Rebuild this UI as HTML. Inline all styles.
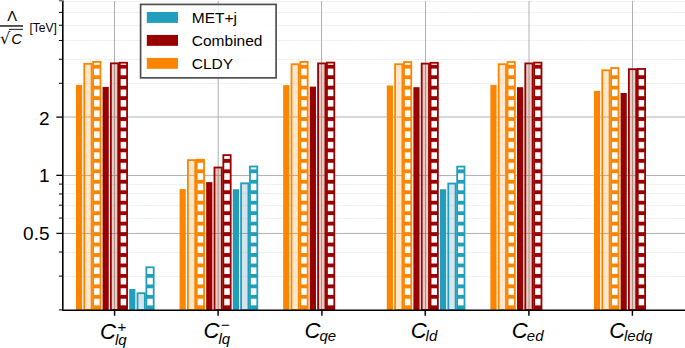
<!DOCTYPE html>
<html><head><meta charset="utf-8"><title>chart</title>
<style>html,body{margin:0;padding:0;background:#fff;font-family:"Liberation Sans",sans-serif}svg{display:block}</style></head>
<body>
<svg width="685" height="348" viewBox="0 0 685 348">
<defs>
<pattern id="ho" patternUnits="userSpaceOnUse" x="0" y="2.035" width="20" height="10.460"><rect x="0" y="0" width="20" height="3.850" fill="#fb8500"/></pattern>
<pattern id="hr" patternUnits="userSpaceOnUse" x="0" y="2.035" width="20" height="10.460"><rect x="0" y="0" width="20" height="3.850" fill="#990000"/></pattern>
<pattern id="ht" patternUnits="userSpaceOnUse" x="0" y="2.035" width="20" height="10.460"><rect x="0" y="0" width="20" height="3.850" fill="#219ebc"/></pattern>
</defs>
<rect width="685" height="348" fill="#fff"/>
<g stroke="#b0b0b0" stroke-width="1" fill="none">
<line x1="114.50" y1="1.00" x2="114.50" y2="310.00"/>
<line x1="218.20" y1="1.00" x2="218.20" y2="310.00"/>
<line x1="321.50" y1="1.00" x2="321.50" y2="310.00"/>
<line x1="425.50" y1="1.00" x2="425.50" y2="310.00"/>
<line x1="529.00" y1="1.00" x2="529.00" y2="310.00"/>
<line x1="632.50" y1="1.00" x2="632.50" y2="310.00"/>
<line x1="63.00" y1="117.00" x2="685.00" y2="117.00"/>
<line x1="63.00" y1="175.45" x2="685.00" y2="175.45"/>
<line x1="63.00" y1="233.45" x2="685.00" y2="233.45"/>
</g>
<g stroke="#b0b0b0" stroke-width="1" fill="none" stroke-dasharray="2.2 0.7" opacity="0.21">
<line x1="63.00" y1="1.50" x2="685.00" y2="1.50"/>
<line x1="63.00" y1="12.50" x2="685.00" y2="12.50"/>
<line x1="63.00" y1="25.50" x2="685.00" y2="25.50"/>
<line x1="63.00" y1="40.50" x2="685.00" y2="40.50"/>
<line x1="63.00" y1="59.50" x2="685.00" y2="59.50"/>
<line x1="63.00" y1="83.50" x2="685.00" y2="83.50"/>
<line x1="63.00" y1="184.50" x2="685.00" y2="184.50"/>
<line x1="63.00" y1="193.50" x2="685.00" y2="193.50"/>
<line x1="63.00" y1="205.50" x2="685.00" y2="205.50"/>
<line x1="63.00" y1="218.50" x2="685.00" y2="218.50"/>
<line x1="63.00" y1="252.50" x2="685.00" y2="252.50"/>
<line x1="63.00" y1="276.50" x2="685.00" y2="276.50"/>
</g>
<rect x="75.97" y="84.90" width="6.20" height="225.10" fill="#fb8500"/>
<rect x="84.27" y="63.80" width="7.33" height="246.20" fill="rgba(251,133,0,0.2)" stroke="#fb8500" stroke-width="1.80"/>
<rect x="93.14" y="61.85" width="7.33" height="248.15" fill="#fff"/>
<rect x="93.14" y="61.85" width="7.33" height="248.15" fill="url(#ho)" stroke="#fb8500" stroke-width="1.80"/>
<rect x="102.58" y="86.90" width="6.20" height="223.10" fill="#990000"/>
<rect x="110.88" y="63.34" width="7.33" height="246.66" fill="rgba(155,51,11,0.25)" stroke="#990000" stroke-width="1.80"/>
<rect x="119.75" y="62.73" width="7.33" height="247.27" fill="#fff"/>
<rect x="119.75" y="62.73" width="7.33" height="247.27" fill="url(#hr)" stroke="#990000" stroke-width="1.80"/>
<rect x="129.19" y="289.00" width="6.20" height="21.00" fill="#219ebc"/>
<rect x="137.50" y="293.20" width="7.33" height="16.80" fill="rgba(50,120,160,0.2)" stroke="#219ebc" stroke-width="1.80"/>
<rect x="146.37" y="267.30" width="7.33" height="42.70" fill="#fff"/>
<rect x="146.37" y="267.30" width="7.33" height="42.70" fill="url(#ht)" stroke="#219ebc" stroke-width="1.80"/>
<rect x="179.57" y="189.10" width="6.20" height="120.90" fill="#fb8500"/>
<rect x="187.87" y="160.10" width="7.33" height="149.90" fill="rgba(251,133,0,0.2)" stroke="#fb8500" stroke-width="1.80"/>
<rect x="196.74" y="159.80" width="7.33" height="150.20" fill="#fff"/>
<rect x="196.74" y="159.80" width="7.33" height="150.20" fill="url(#ho)" stroke="#fb8500" stroke-width="1.80"/>
<rect x="206.18" y="182.10" width="6.20" height="127.90" fill="#990000"/>
<rect x="214.48" y="167.50" width="7.33" height="142.50" fill="rgba(155,51,11,0.25)" stroke="#990000" stroke-width="1.80"/>
<rect x="223.35" y="155.10" width="7.33" height="154.90" fill="#fff"/>
<rect x="223.35" y="155.10" width="7.33" height="154.90" fill="url(#hr)" stroke="#990000" stroke-width="1.80"/>
<rect x="232.79" y="189.25" width="6.20" height="120.75" fill="#219ebc"/>
<rect x="241.09" y="183.30" width="7.33" height="126.70" fill="rgba(50,120,160,0.2)" stroke="#219ebc" stroke-width="1.80"/>
<rect x="249.96" y="166.50" width="7.33" height="143.50" fill="#fff"/>
<rect x="249.96" y="166.50" width="7.33" height="143.50" fill="url(#ht)" stroke="#219ebc" stroke-width="1.80"/>
<rect x="283.17" y="85.10" width="6.20" height="224.90" fill="#fb8500"/>
<rect x="291.47" y="64.20" width="7.33" height="245.80" fill="rgba(251,133,0,0.2)" stroke="#fb8500" stroke-width="1.80"/>
<rect x="300.34" y="61.90" width="7.33" height="248.10" fill="#fff"/>
<rect x="300.34" y="61.90" width="7.33" height="248.10" fill="url(#ho)" stroke="#fb8500" stroke-width="1.80"/>
<rect x="309.78" y="86.60" width="6.20" height="223.40" fill="#990000"/>
<rect x="318.08" y="63.40" width="7.33" height="246.60" fill="rgba(155,51,11,0.25)" stroke="#990000" stroke-width="1.80"/>
<rect x="326.95" y="62.60" width="7.33" height="247.40" fill="#fff"/>
<rect x="326.95" y="62.60" width="7.33" height="247.40" fill="url(#hr)" stroke="#990000" stroke-width="1.80"/>
<rect x="386.77" y="85.50" width="6.20" height="224.50" fill="#fb8500"/>
<rect x="395.07" y="64.20" width="7.33" height="245.80" fill="rgba(251,133,0,0.2)" stroke="#fb8500" stroke-width="1.80"/>
<rect x="403.94" y="62.00" width="7.33" height="248.00" fill="#fff"/>
<rect x="403.94" y="62.00" width="7.33" height="248.00" fill="url(#ho)" stroke="#fb8500" stroke-width="1.80"/>
<rect x="413.38" y="87.20" width="6.20" height="222.80" fill="#990000"/>
<rect x="421.68" y="63.60" width="7.33" height="246.40" fill="rgba(155,51,11,0.25)" stroke="#990000" stroke-width="1.80"/>
<rect x="430.55" y="62.80" width="7.33" height="247.20" fill="#fff"/>
<rect x="430.55" y="62.80" width="7.33" height="247.20" fill="url(#hr)" stroke="#990000" stroke-width="1.80"/>
<rect x="439.99" y="189.25" width="6.20" height="120.75" fill="#219ebc"/>
<rect x="448.29" y="183.50" width="7.33" height="126.50" fill="rgba(50,120,160,0.2)" stroke="#219ebc" stroke-width="1.80"/>
<rect x="457.16" y="166.60" width="7.33" height="143.40" fill="#fff"/>
<rect x="457.16" y="166.60" width="7.33" height="143.40" fill="url(#ht)" stroke="#219ebc" stroke-width="1.80"/>
<rect x="490.37" y="84.90" width="6.20" height="225.10" fill="#fb8500"/>
<rect x="498.67" y="64.20" width="7.33" height="245.80" fill="rgba(251,133,0,0.2)" stroke="#fb8500" stroke-width="1.80"/>
<rect x="507.54" y="62.00" width="7.33" height="248.00" fill="#fff"/>
<rect x="507.54" y="62.00" width="7.33" height="248.00" fill="url(#ho)" stroke="#fb8500" stroke-width="1.80"/>
<rect x="516.98" y="87.20" width="6.20" height="222.80" fill="#990000"/>
<rect x="525.28" y="63.40" width="7.33" height="246.60" fill="rgba(155,51,11,0.25)" stroke="#990000" stroke-width="1.80"/>
<rect x="534.15" y="62.60" width="7.33" height="247.40" fill="#fff"/>
<rect x="534.15" y="62.60" width="7.33" height="247.40" fill="url(#hr)" stroke="#990000" stroke-width="1.80"/>
<rect x="593.97" y="91.00" width="6.20" height="219.00" fill="#fb8500"/>
<rect x="602.27" y="70.30" width="7.33" height="239.70" fill="rgba(251,133,0,0.2)" stroke="#fb8500" stroke-width="1.80"/>
<rect x="611.14" y="68.00" width="7.33" height="242.00" fill="#fff"/>
<rect x="611.14" y="68.00" width="7.33" height="242.00" fill="url(#ho)" stroke="#fb8500" stroke-width="1.80"/>
<rect x="620.58" y="93.00" width="6.20" height="217.00" fill="#990000"/>
<rect x="628.88" y="69.20" width="7.33" height="240.80" fill="rgba(155,51,11,0.25)" stroke="#990000" stroke-width="1.80"/>
<rect x="637.75" y="68.95" width="7.33" height="241.05" fill="#fff"/>
<rect x="637.75" y="68.95" width="7.33" height="241.05" fill="url(#hr)" stroke="#990000" stroke-width="1.80"/>
<g stroke="#000" fill="none">
<line x1="62.80" y1="0.9" x2="62.80" y2="311.00" stroke-width="1.60"/>
<rect x="58.9" y="-1" width="4.8" height="2.5" fill="#777" stroke="none"/>
<line x1="62.00" y1="310.20" x2="685" y2="310.20" stroke-width="1.60"/>
<line x1="114.60" y1="310.20" x2="114.60" y2="315.75" stroke-width="1.45"/>
<line x1="218.10" y1="310.20" x2="218.10" y2="315.75" stroke-width="1.45"/>
<line x1="321.90" y1="310.20" x2="321.90" y2="315.75" stroke-width="1.45"/>
<line x1="425.25" y1="310.20" x2="425.25" y2="315.75" stroke-width="1.45"/>
<line x1="528.90" y1="310.20" x2="528.90" y2="315.75" stroke-width="1.45"/>
<line x1="632.40" y1="310.20" x2="632.40" y2="315.75" stroke-width="1.45"/>
<line x1="56.35" y1="117.10" x2="62.80" y2="117.10" stroke-width="1.3"/>
<line x1="56.35" y1="175.35" x2="62.80" y2="175.35" stroke-width="1.3"/>
<line x1="56.35" y1="233.40" x2="62.80" y2="233.40" stroke-width="1.3"/>
<line x1="58.90" y1="12.37" x2="62.80" y2="12.37" stroke-width="1.0"/>
<line x1="58.90" y1="25.27" x2="62.80" y2="25.27" stroke-width="1.0"/>
<line x1="58.90" y1="40.54" x2="62.80" y2="40.54" stroke-width="1.0"/>
<line x1="58.90" y1="59.22" x2="62.80" y2="59.22" stroke-width="1.0"/>
<line x1="58.90" y1="83.31" x2="62.80" y2="83.31" stroke-width="1.0"/>
<line x1="58.90" y1="184.12" x2="62.80" y2="184.12" stroke-width="1.0"/>
<line x1="58.90" y1="193.98" x2="62.80" y2="193.98" stroke-width="1.0"/>
<line x1="58.90" y1="205.17" x2="62.80" y2="205.17" stroke-width="1.0"/>
<line x1="58.90" y1="218.07" x2="62.80" y2="218.07" stroke-width="1.0"/>
<line x1="58.90" y1="252.02" x2="62.80" y2="252.02" stroke-width="1.0"/>
<line x1="58.90" y1="276.11" x2="62.80" y2="276.11" stroke-width="1.0"/>
<line x1="58.90" y1="309.90" x2="62.80" y2="309.90" stroke-width="1.0"/>
</g>
<g font-family="'Liberation Sans', sans-serif" fill="#000">
<text x="49.5" y="124.5" font-size="19" text-anchor="end">2</text>
<text x="49.5" y="182.45" font-size="19" text-anchor="end">1</text>
<text x="49.5" y="240.1" font-size="19" text-anchor="end">0.5</text>

<text x="100" y="339.4" font-size="22" font-style="italic">C</text>
<text x="117.5" y="331.5" font-size="15">+</text>
<text x="115" y="345.2" font-size="15" font-style="italic">lq</text>

<text x="203.5" y="337.7" font-size="22" font-style="italic">C</text>
<text x="221" y="329.8" font-size="15">−</text>
<text x="218.4" y="343.5" font-size="15" font-style="italic">lq</text>

<text x="304.5" y="337.7" font-size="22" font-style="italic">C</text>
<text x="319.5" y="341.2" font-size="15" font-style="italic">qe</text>

<text x="410.7" y="337.7" font-size="22" font-style="italic">C</text>
<text x="425.6" y="341.2" font-size="15" font-style="italic">ld</text>

<text x="511.8" y="337.7" font-size="22" font-style="italic">C</text>
<text x="526.8" y="341.2" font-size="15" font-style="italic">ed</text>

<text x="609.2" y="337.7" font-size="22" font-style="italic">C</text>
<text x="624" y="341.2" font-size="15" font-style="italic">ledq</text>

<text x="12.1" y="21.2" font-size="14.7" text-anchor="middle">Λ</text>
<text x="0" y="44.3" font-size="16" font-family="'DejaVu Sans', 'Liberation Sans', sans-serif">√</text>
<text x="11.3" y="44.4" font-size="15" font-style="italic">C</text>
<text x="29.5" y="32" font-size="12">[TeV]</text>
</g>
<rect x="0" y="25.30" width="22.93" height="1.32" fill="#000"/>
<rect x="8.99" y="28.85" width="13.94" height="0.92" fill="#000"/>
<rect x="140.6" y="4.4" width="135.5" height="73.45" fill="#fff" fill-opacity="0.8" stroke="#4f4f54" stroke-width="1.7"/>
<rect x="146.8" y="12.00" width="31.2" height="10.9" fill="#219ebc"/>
<text x="191.8" y="22.8" font-family="'Liberation Sans', sans-serif" font-size="15.5" fill="#000">MET+j</text>
<rect x="146.8" y="34.95" width="31.2" height="10.9" fill="#990000"/>
<text x="191.8" y="45.75" font-family="'Liberation Sans', sans-serif" font-size="15.5" fill="#000">Combined</text>
<rect x="146.8" y="57.90" width="31.2" height="10.9" fill="#fb8500"/>
<text x="191.8" y="68.7" font-family="'Liberation Sans', sans-serif" font-size="15.5" fill="#000">CLDY</text>
</svg>
</body></html>
